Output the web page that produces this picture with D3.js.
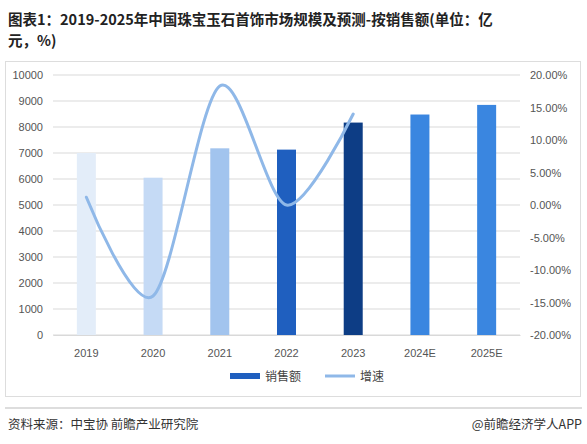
<!DOCTYPE html><html><head><meta charset="utf-8"><script src="https://cdn.jsdelivr.net/npm/d3@7"></script>
<style>body{margin:0;background:#fff;font-family:"Microsoft YaHei","Noto Sans CJK SC",sans-serif}</style></head><body>
<svg id="c" width="587" height="444"></svg>
<script>
const categories=["2019","2020","2021","2022","2023","2024E","2025E"];
const sales=[7000,6050,7180,7130,8170,8480,8850];
const growth=[1.2,-14.0,18.3,0.0,14.0];
const barColors=["#e3edf9","#c5daf5","#a2c4ee","#1f5fbf","#0d3d85","#3a86e0","#3a86e0"];
const leftTicks=d3.range(0,10001,1000);
const rightTicks=d3.range(-20,20.1,5);
const svg=d3.select("#c");
svg.append("text").attr("x",8).attr("y",25).attr("font-size",14.5).attr("font-weight","bold").attr("fill","#222").text("图表1：2019-2025年中国珠宝玉石首饰市场规模及预测-按销售额(单位：亿");
svg.append("text").attr("x",8).attr("y",46).attr("font-size",14.5).attr("font-weight","bold").attr("fill","#222").text("元，%)");
svg.append("rect").attr("x",5.5).attr("y",61.5).attr("width",575).attr("height",335).attr("fill","none").attr("stroke","#ddd");
const x=d3.scaleBand().domain(categories).range([53,520]);
const y=d3.scaleLinear().domain([0,10000]).range([335,75]);
const y2=d3.scaleLinear().domain([-20,20]).range([335,75]);
svg.append("g").selectAll("line").data(leftTicks).join("line").attr("x1",53).attr("x2",520).attr("y1",d=>y(d)).attr("y2",d=>y(d)).attr("stroke","#d9d9d9");
const ga=svg.append("g").attr("transform","translate(53,0)").call(d3.axisLeft(y).tickValues(leftTicks).tickSize(0).tickPadding(10).tickFormat(d3.format("d")));
ga.select(".domain").remove();
const gb=svg.append("g").attr("transform","translate(520,0)").call(d3.axisRight(y2).tickValues(rightTicks).tickSize(0).tickPadding(10).tickFormat(d=>d.toFixed(2)+"%"));
gb.select(".domain").remove();
const gx=svg.append("g").attr("transform","translate(0,335)").call(d3.axisBottom(x).tickSize(0).tickPadding(14));
gx.select(".domain").attr("stroke","#d9d9d9");
svg.selectAll(".tick text").attr("font-size",11).attr("fill","#555").attr("font-family","Liberation Sans, Arial, sans-serif");
svg.append("g").selectAll("rect").data(sales).join("rect").attr("x",(d,i)=>x(categories[i])+x.bandwidth()/2-9.5).attr("width",19).attr("y",d=>y(d)).attr("height",d=>335-y(d)).attr("fill",(d,i)=>barColors[i]);
const line=d3.line().x((d,i)=>x(categories[i])+x.bandwidth()/2).y(d=>y2(d)).curve(d3.curveCardinal.tension(0.1));
svg.append("path").datum(growth).attr("d",line).attr("fill","none").attr("stroke","#8fb8e8").attr("stroke-width",3).attr("stroke-linecap","round");
const lg=svg.append("g");
lg.append("rect").attr("x",230).attr("y",373).attr("width",30).attr("height",6).attr("fill","#1f5fbf");
lg.append("text").attr("x",265).attr("y",381).attr("font-size",12).attr("fill","#444").text("销售额");
lg.append("line").attr("x1",325).attr("x2",355).attr("y1",376).attr("y2",376).attr("stroke","#8fb8e8").attr("stroke-width",3);
lg.append("text").attr("x",360).attr("y",381).attr("font-size",12).attr("fill","#444").text("增速");
svg.append("line").attr("x1",5).attr("x2",582).attr("y1",408).attr("y2",408).attr("stroke","#bbb");
svg.append("text").attr("x",8).attr("y",429).attr("font-size",12.5).attr("fill","#333").text("资料来源：中宝协 前瞻产业研究院");
svg.append("text").attr("x",582).attr("y",429).attr("text-anchor","end").attr("font-size",12.5).attr("fill","#333").text("@前瞻经济学人APP");
</script></body></html>
